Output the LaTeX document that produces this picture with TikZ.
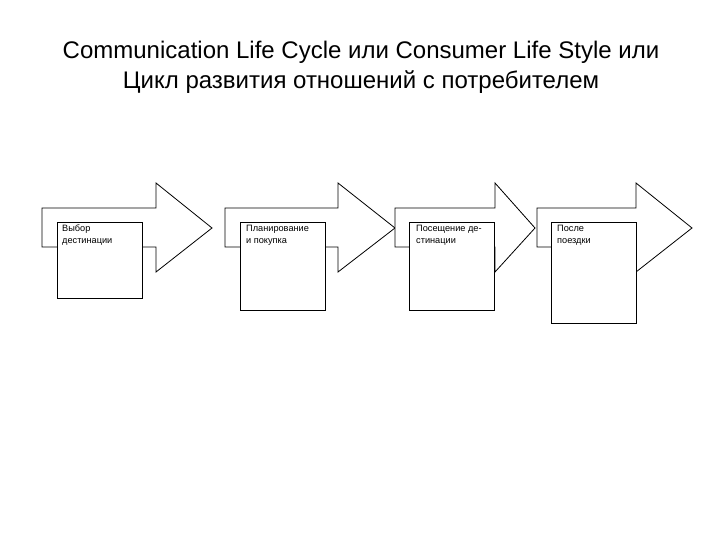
\documentclass[tikz,border=0pt]{standalone}
\usepackage{fontspec}
\setmainfont{Liberation Sans}
\begin{document}
\begin{tikzpicture}[x=1pt,y=-1pt,
  arr/.style={draw=black,line width=0.8pt,fill=white,line join=miter},
  box/.style={draw=black,line width=0.8pt,fill=white},
  lbl/.style={font=\fontsize{9.2}{12}\selectfont,align=left,anchor=north west,inner sep=0pt},
  ttl/.style={font=\fontsize{24}{30}\selectfont,align=center}]
\useasboundingbox (0,0) rectangle (720,540);
\node[ttl] (title) at (361,67) {Communication Life Cycle или Consumer Life Style или\\Цикл развития отношений с потребителем};
% arrows
\foreach \n/\l/\b/\t in {a1/42/156/212, a2/225/338/395, a3/395/495/535, a4/537/636/692}{
  \draw[arr] (\l,208) -- (\b,208) -- (\b,183) -- (\t,228) -- (\b,272) -- (\b,247) -- (\l,247) -- cycle;
}
\draw[box] (57,222) rectangle (142,298) coordinate (b1);
\node[lbl] (t1) at (62,225) {Выбор\\дестинации};
\draw[box] (240,222) rectangle (325,310) coordinate (b2);
\node[lbl] (t2) at (246,225) {Планирование\\и покупка};
\draw[box] (409,222) rectangle (494,310) coordinate (b3);
\node[lbl] (t3) at (416,225) {Посещение де-\\стинации};
\draw[box] (551,222) rectangle (636,323) coordinate (b4);
\node[lbl] (t4) at (557,225) {После\\поездки};
\end{tikzpicture}
\end{document}
